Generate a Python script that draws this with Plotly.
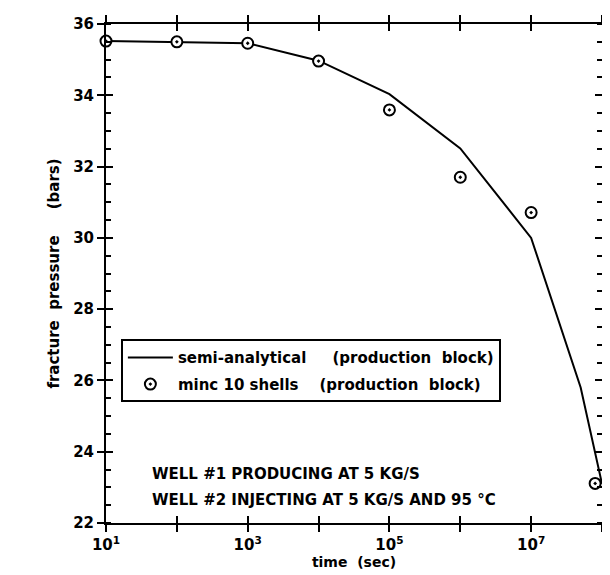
import plotly.graph_objects as go

# semi-analytical solution (production block)
semi_time = [1e1, 1e2, 1e3, 1e4, 1e5, 1e6, 1e7, 5e7, 1e8]
semi_pressure = [35.52, 35.50, 35.46, 34.97, 34.03, 32.51, 30.00, 25.80, 23.10]

# MINC 10 shells (production block)
minc_time = [1e1, 1e2, 1e3, 1e4, 1e5, 1e6, 1e7, 8e7]
minc_pressure = [35.52, 35.50, 35.46, 34.96, 33.59, 31.70, 30.71, 23.11]

x_tickvals = [1e1, 1e2, 1e3, 1e4, 1e5, 1e6, 1e7, 1e8]
x_ticktext = ["10<sup>1</sup>", "", "10<sup>3</sup>", "", "10<sup>5</sup>", "", "10<sup>7</sup>", ""]
y_tickvals = [22, 24, 26, 28, 30, 32, 34, 36]

FONT = "DejaVu Sans"
NB = "\u00a0"

fig = go.Figure()
fig.add_trace(go.Scatter(
    x=semi_time, y=semi_pressure, mode="lines",
    line=dict(color="black", width=2),
    legendgroup="a",
    name="semi-analytical" + NB * 5 + "(production" + NB * 2 + "block)",
))
fig.add_trace(go.Scatter(
    x=minc_time, y=minc_pressure, mode="markers",
    marker=dict(symbol="circle-dot", size=11, color="white",
                line=dict(color="black", width=2)),
    legendgroup="b",
    name="minc" + NB + "10" + NB + "shells" + NB * 4 + "(production" + NB * 2 + "block)",
    cliponaxis=False,
))
# helper trace to anchor the inner-tick overlay axes
fig.add_trace(go.Scatter(x=[], y=[], xaxis="x2", yaxis="y2", showlegend=False))

tickfont = dict(family=FONT, size=15, color="black", weight="bold")

fig.update_layout(
    width=610, height=575,
    margin=dict(l=98, r=7, t=15, b=60),
    paper_bgcolor="white", plot_bgcolor="white",
    font=dict(family=FONT, color="black"),
    showlegend=True,
    legend=dict(
        x=0.03, y=0.368, xanchor="left", yanchor="top",
        bgcolor="white", bordercolor="black", borderwidth=2,
        font=dict(family=FONT, size=15, color="black", weight="bold"),
        itemwidth=45, tracegroupgap=4,
    ),
    xaxis=dict(
        type="log", range=[1, 8],
        tickvals=x_tickvals, ticktext=x_ticktext,
        ticks="outside", ticklen=7, tickwidth=2, tickcolor="black",
        showline=True, linewidth=2, linecolor="black", mirror="ticks",
        showgrid=False, zeroline=False,
        tickfont=tickfont,
        title=dict(text="time" + NB * 2 + "(sec)",
                   font=dict(family=FONT, size=14, color="black", weight="bold"),
                   standoff=4),
    ),
    yaxis=dict(
        range=[22, 36],
        tickvals=y_tickvals,
        ticks="outside", ticklen=7, tickwidth=2, tickcolor="black",
        minor=dict(ticks="inside", dtick=0.5, ticklen=5, tickwidth=1.5, tickcolor="black", showgrid=False),
        showline=True, linewidth=2, linecolor="black", mirror="ticks",
        showgrid=False, zeroline=False,
        tickfont=tickfont,
        title=dict(text="fracture" + NB * 2 + "pressure" + NB * 5 + "(bars)",
                   font=dict(family=FONT, size=15, color="black", weight="bold"),
                   standoff=10),
    ),
    xaxis2=dict(
        type="log", range=[1, 8], overlaying="x", anchor="y2",
        tickvals=x_tickvals, showticklabels=False,
        ticks="inside", ticklen=7, tickwidth=2, tickcolor="black",
        showline=False, mirror="ticks", showgrid=False, zeroline=False,
    ),
    yaxis2=dict(
        range=[22, 36], overlaying="y", anchor="x2",
        tickvals=y_tickvals, showticklabels=False,
        ticks="inside", ticklen=7, tickwidth=2, tickcolor="black",
        showline=False, mirror="ticks", showgrid=False, zeroline=False,
    ),
)

note_font = dict(family=FONT, size=15, color="black", weight="bold")
fig.add_annotation(text="WELL #1 PRODUCING AT 5 KG/S", xref="paper", yref="paper",
                   x=0.089, y=0.098, xanchor="left", yanchor="middle",
                   showarrow=False, font=note_font)
fig.add_annotation(text="WELL #2 INJECTING AT 5 KG/S AND 95 °C", xref="paper", yref="paper",
                   x=0.089, y=0.046, xanchor="left", yanchor="middle",
                   showarrow=False, font=note_font)

fig.write_html("out.html")
